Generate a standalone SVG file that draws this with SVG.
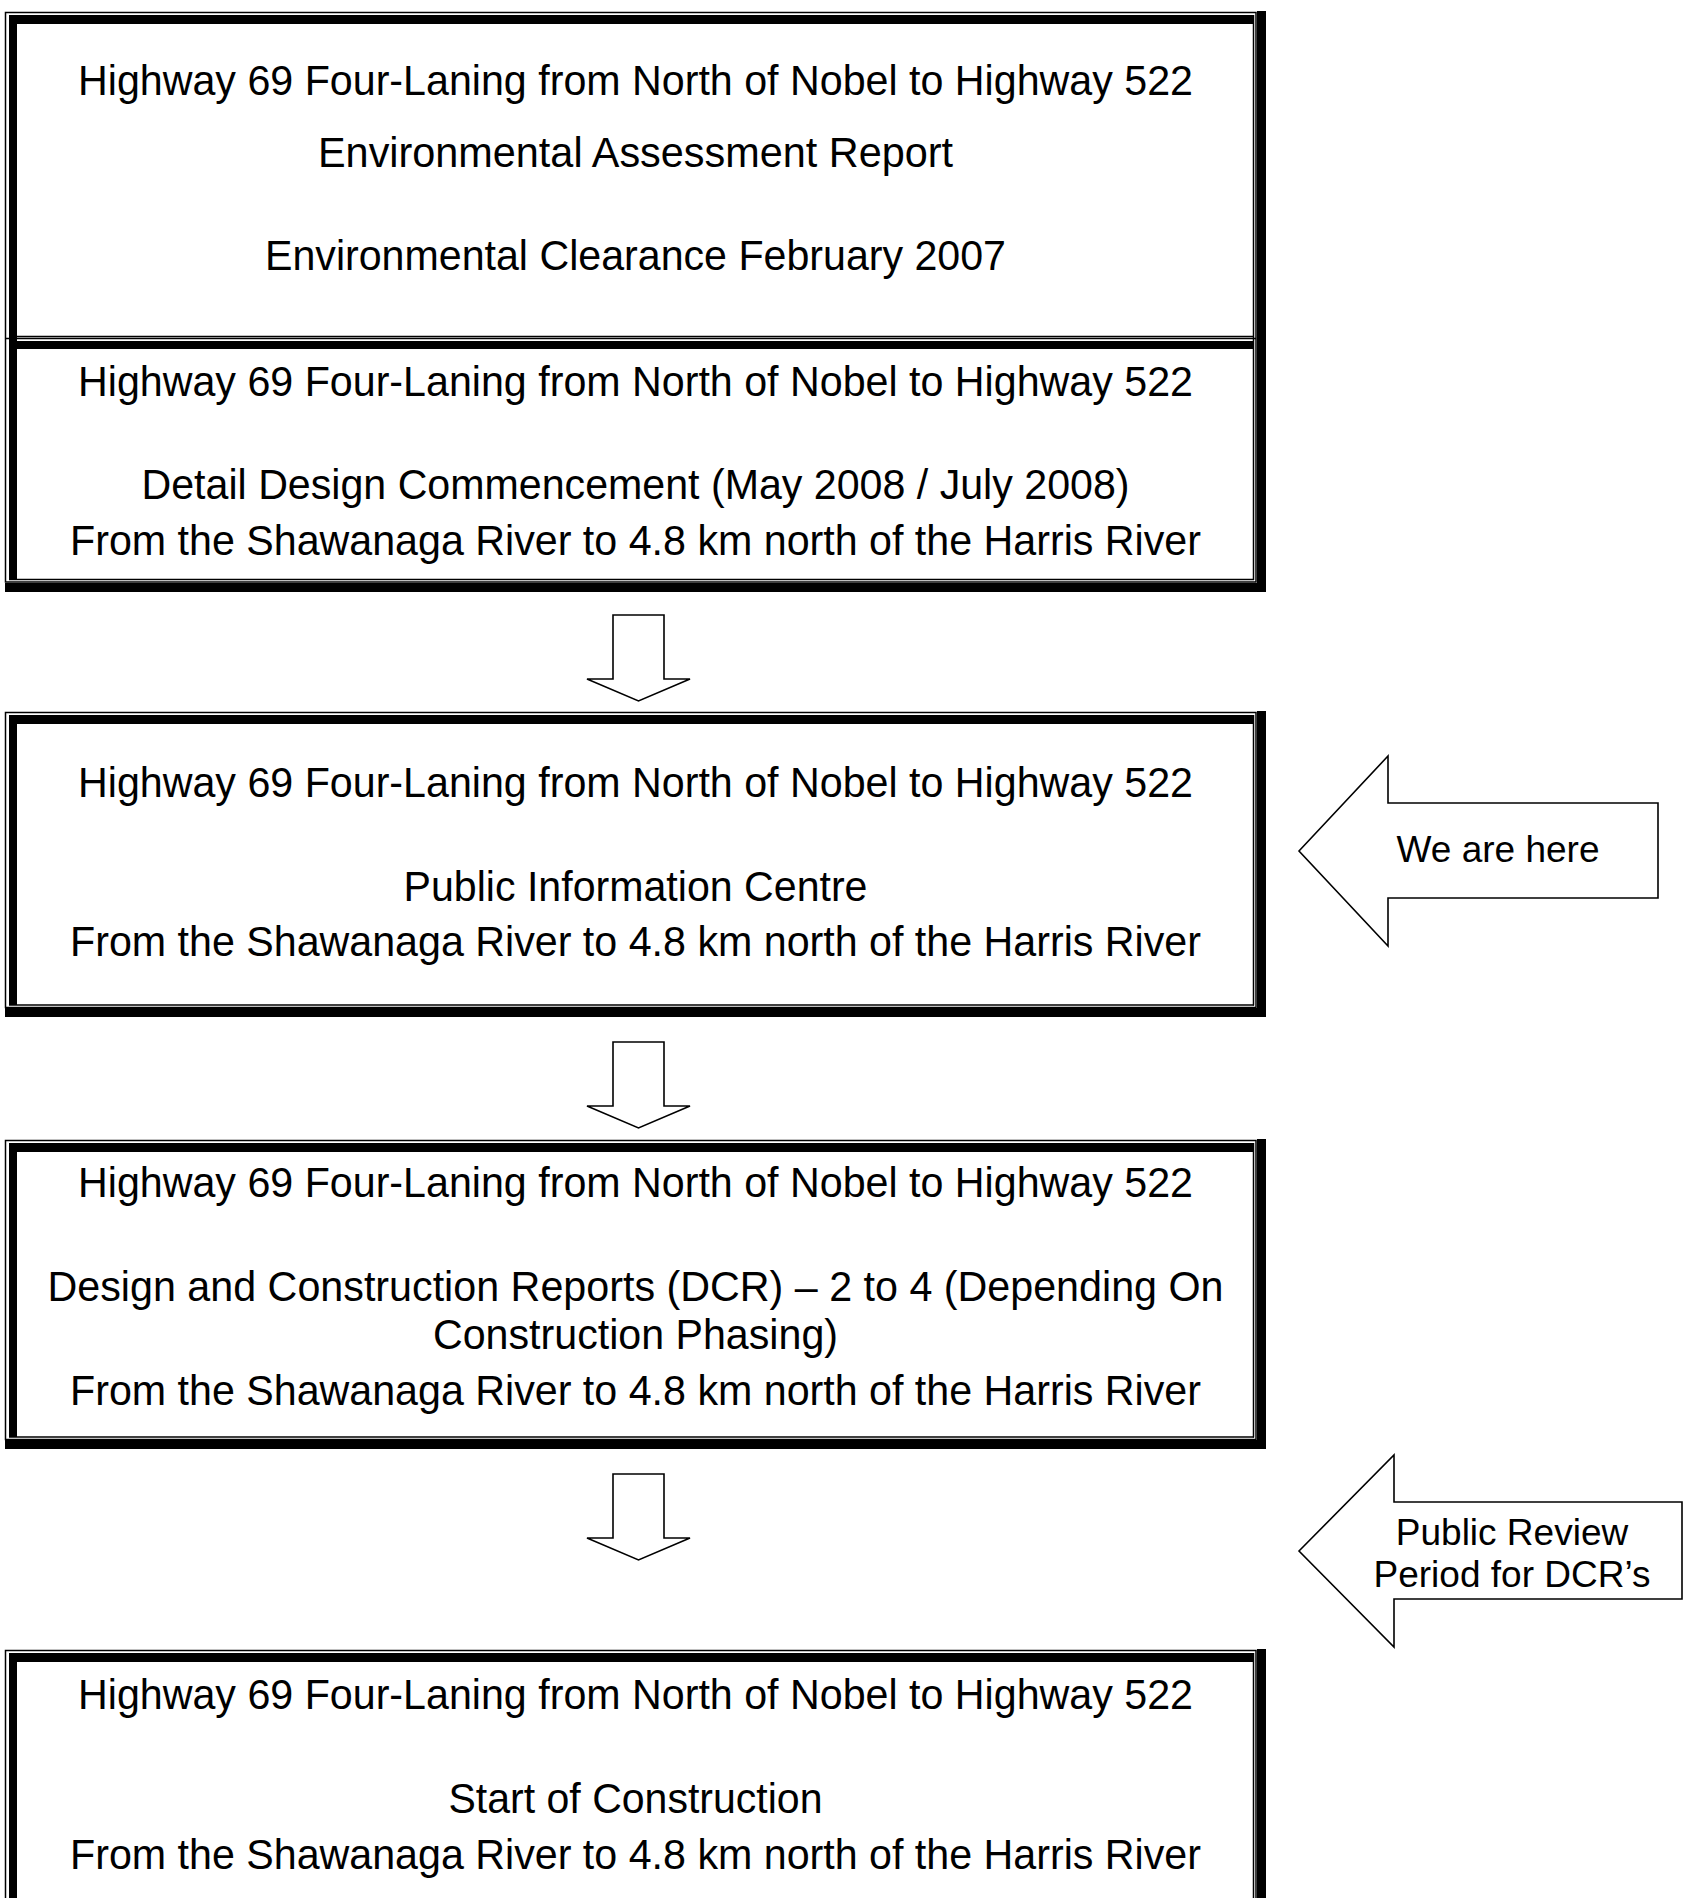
<svg xmlns="http://www.w3.org/2000/svg" width="1685" height="1898" viewBox="0 0 1685 1898">
<style>
.t{font-family:"Liberation Sans",Arial,sans-serif;font-size:43px;text-anchor:middle;fill:#000}
.c{font-family:"Liberation Sans",Arial,sans-serif;font-size:37px;text-anchor:middle;fill:#000}
.thin{fill:none;stroke:#000;stroke-width:1.5}
.blk{fill:#000}
.arw{fill:#fff;stroke:#000;stroke-width:1.6;stroke-linejoin:miter}
</style>
<rect width="1685" height="1898" fill="#fff"/>

<g id="frame1">
  <rect class="thin" x="5.5" y="12.5" width="1250.5" height="569.5"/>
  <rect class="blk" x="1257" y="11" width="9" height="581"/>
  <rect class="blk" x="5" y="583" width="1261" height="9"/>
  <rect class="blk" x="9" y="15" width="1245" height="9"/>
  <rect class="blk" x="9" y="15" width="8" height="565"/>
  <line class="thin" x1="1253.5" y1="15" x2="1253.5" y2="580"/>
  <line class="thin" x1="9" y1="579.5" x2="1254" y2="579.5"/>
  <g id="box1">
    <line class="thin" x1="9" y1="336.5" x2="1254" y2="336.5"/>
    <text class="t" x="635.5" y="95" textLength="1115" lengthAdjust="spacingAndGlyphs">Highway 69 Four-Laning from North of Nobel to Highway 522</text>
    <text class="t" x="635.5" y="167" textLength="635" lengthAdjust="spacingAndGlyphs">Environmental Assessment Report</text>
    <text class="t" x="635.5" y="270" textLength="741" lengthAdjust="spacingAndGlyphs">Environmental Clearance February 2007</text>
  </g>
  <g id="box2">
    <line class="thin" x1="6" y1="338.5" x2="1256" y2="338.5"/>
    <rect class="blk" x="9" y="341" width="1245" height="8"/>
    <text class="t" x="635.5" y="395.5" textLength="1115" lengthAdjust="spacingAndGlyphs">Highway 69 Four-Laning from North of Nobel to Highway 522</text>
    <text class="t" x="635.5" y="499" textLength="988" lengthAdjust="spacingAndGlyphs">Detail Design Commencement (May 2008 / July 2008)</text>
    <text class="t" x="635.5" y="554.5" textLength="1131" lengthAdjust="spacingAndGlyphs">From the Shawanaga River to 4.8 km north of the Harris River</text>
  </g>
</g>

<g id="box3">
  <rect class="thin" x="5.5" y="712.5" width="1250.5" height="295"/>
  <rect class="blk" x="1257" y="711" width="9" height="306"/>
  <rect class="blk" x="5" y="1008" width="1261" height="9"/>
  <rect class="blk" x="9" y="715" width="1245" height="9"/>
  <rect class="blk" x="9" y="715" width="8" height="290"/>
  <line class="thin" x1="1253.5" y1="715" x2="1253.5" y2="1005.5"/>
  <line class="thin" x1="9" y1="1005" x2="1254" y2="1005"/>
  <text class="t" x="635.5" y="797" textLength="1115" lengthAdjust="spacingAndGlyphs">Highway 69 Four-Laning from North of Nobel to Highway 522</text>
  <text class="t" x="635.5" y="900.5" textLength="464" lengthAdjust="spacingAndGlyphs">Public Information Centre</text>
  <text class="t" x="635.5" y="955.5" textLength="1131" lengthAdjust="spacingAndGlyphs">From the Shawanaga River to 4.8 km north of the Harris River</text>
</g>

<g id="box4">
  <rect class="thin" x="5.5" y="1140.5" width="1250.5" height="299"/>
  <rect class="blk" x="1257" y="1139" width="9" height="310"/>
  <rect class="blk" x="5" y="1440" width="1261" height="9"/>
  <rect class="blk" x="9" y="1143" width="1245" height="9"/>
  <rect class="blk" x="9" y="1143" width="8" height="294"/>
  <line class="thin" x1="1253.5" y1="1143" x2="1253.5" y2="1437.5"/>
  <line class="thin" x1="9" y1="1437" x2="1254" y2="1437"/>
  <text class="t" x="635.5" y="1197" textLength="1115" lengthAdjust="spacingAndGlyphs">Highway 69 Four-Laning from North of Nobel to Highway 522</text>
  <text class="t" x="635.5" y="1300.5" textLength="1176" lengthAdjust="spacingAndGlyphs">Design and Construction Reports (DCR) – 2 to 4 (Depending On</text>
  <text class="t" x="635.5" y="1348.5" textLength="405" lengthAdjust="spacingAndGlyphs">Construction Phasing)</text>
  <text class="t" x="635.5" y="1404.5" textLength="1131" lengthAdjust="spacingAndGlyphs">From the Shawanaga River to 4.8 km north of the Harris River</text>
</g>

<g id="box5">
  <rect class="thin" x="5.5" y="1650.5" width="1250.5" height="320"/>
  <rect class="blk" x="1257" y="1649" width="9" height="330"/>
  <rect class="blk" x="9" y="1653" width="1245" height="9"/>
  <rect class="blk" x="9" y="1653" width="8" height="320"/>
  <line class="thin" x1="1253.5" y1="1653" x2="1253.5" y2="1970"/>
  <text class="t" x="635.5" y="1708.5" textLength="1115" lengthAdjust="spacingAndGlyphs">Highway 69 Four-Laning from North of Nobel to Highway 522</text>
  <text class="t" x="635.5" y="1812.5" textLength="374" lengthAdjust="spacingAndGlyphs">Start of Construction</text>
  <text class="t" x="635.5" y="1868.5" textLength="1131" lengthAdjust="spacingAndGlyphs">From the Shawanaga River to 4.8 km north of the Harris River</text>
</g>

<g id="connectors">
  <polygon class="arw" points="613,615 664,615 664,679 690,679 638.5,701 587,679 613,679"/>
  <polygon class="arw" points="613,1042 664,1042 664,1106 690,1106 638.5,1128 587,1106 613,1106"/>
  <polygon class="arw" points="613,1474 664,1474 664,1538 690,1538 638.5,1560 587,1538 613,1538"/>
</g>

<g id="callout-here">
  <polygon class="arw" points="1299,851 1388,756 1388,803 1658,803 1658,898 1388,898 1388,946"/>
  <text class="c" x="1498" y="862">We are here</text>
</g>

<g id="callout-review">
  <polygon class="arw" points="1299,1551 1394,1455 1394,1502 1682,1502 1682,1599 1394,1599 1394,1647"/>
  <text class="c" x="1512" y="1545">Public Review</text>
  <text class="c" x="1512" y="1587">Period for DCR’s</text>
</g>
</svg>
